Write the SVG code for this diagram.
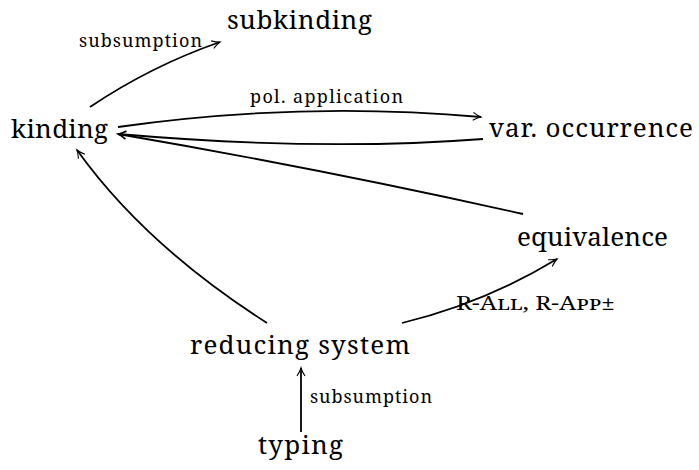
<svg xmlns="http://www.w3.org/2000/svg" width="699" height="470" viewBox="0 0 699 470">
<style>
.n{font-family:"Noto Serif","Liberation Serif","DejaVu Serif",serif;font-size:26px;fill:#000}
.l{font-family:"Noto Serif","Liberation Serif","DejaVu Serif",serif;font-size:18px;fill:#000}
.sc{font-variant:small-caps;font-size:20px}
.e{fill:none;stroke:#000;stroke-width:1.8;marker-end:url(#ah)}
</style>
<defs>
<marker id="ah" markerUnits="userSpaceOnUse" markerWidth="14" markerHeight="12" viewBox="-10 -6 12 12" refX="0" refY="0" orient="auto">
<path d="M-8,-4 Q-3,-0.8 0,0 Q-3,0.8 -8,4" fill="none" stroke="#000" stroke-width="1.1"/>
</marker>
</defs>
<rect width="699" height="470" fill="#fff"/>
<g id="edges">
<path class="e" d="M90,107 Q151,66 220,42"/>
<path class="e" d="M118,127 Q300,101 481,117"/>
<path class="e" d="M483,139 Q320,151.5 118,134"/>
<path class="e" d="M523,214 Q322,169 118,134"/>
<path class="e" d="M267,323 Q145,245 77,150"/>
<path class="e" d="M402,323 Q484.5,303 557,259"/>
<path class="e" d="M301,432 L301,368"/>
<text class="l" x="79" y="47" textLength="123">subsumption</text>
<text class="l" x="250" y="103" textLength="153">pol. application</text>
<text class="l sc" x="456" y="310" textLength="159" lengthAdjust="spacingAndGlyphs">R-All, R-App±</text>
<text class="l" x="310" y="403" textLength="122">subsumption</text>
</g>
<g id="subkinding"><text class="n" x="227" y="29" textLength="145">subkinding</text></g>
<g id="kinding"><text class="n" x="11" y="138" textLength="97">kinding</text></g>
<g id="var-occurrence"><text class="n" x="489" y="137" textLength="204">var. occurrence</text></g>
<g id="equivalence"><text class="n" x="517" y="246" textLength="151">equivalence</text></g>
<g id="reducing-system"><text class="n" x="190" y="354" textLength="220">reducing system</text></g>
<g id="typing"><text class="n" x="258" y="454" textLength="85">typing</text></g>
</svg>
